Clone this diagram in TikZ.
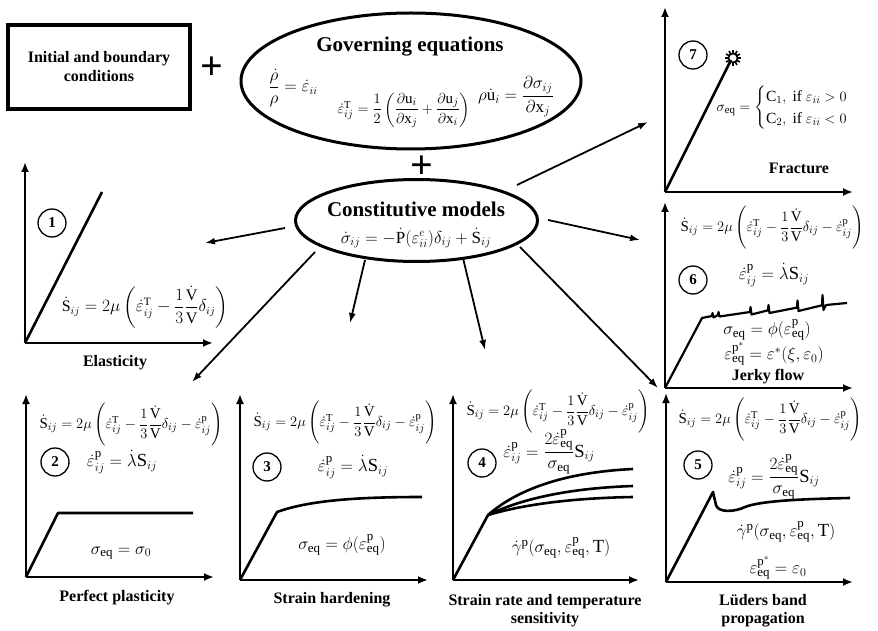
\documentclass[tikz,border=0pt]{standalone}
\usepackage{amsmath}
\usepackage{fontspec}
\setmainfont{Liberation Serif}
\usetikzlibrary{arrows.meta,shapes.geometric}
\newcommand\dS{\dot{\mathrm S}}
\newcommand\de{\dot\varepsilon}
\newcommand\rS{\mathrm S}
\newcommand\eqs{\mathrm{eq}}
\newcommand\pp{\mathrm p}
\newcommand\fullS{\dS_{ij}=2\mu\left(\de^{\mathrm T}_{ij}-\dfrac13\dfrac{\dot{\mathrm V}}{\mathrm V}\delta_{ij}-\de^{\pp}_{ij}\right)}
\begin{document}
\begin{tikzpicture}[x=1pt,y=-1pt,
  axis/.style={line width=2.2pt,-{Latex[length=10pt,width=8pt]}},
  curve/.style={line width=2.6pt,line join=round},
  arr/.style={line width=1.8pt,-{Latex[length=10pt,width=7pt]}},
  eqn/.style={inner sep=0pt,font=\fontsize{15}{17}\selectfont},
  eqb/.style={inner sep=0pt,font=\fontsize{18.5}{21}\selectfont},
  lbl/.style={inner sep=0pt,font=\fontsize{16}{18}\selectfont\bfseries,align=center},
  num/.style={draw,circle,line width=1.3pt,minimum size=28pt,inner sep=0pt,font=\fontsize{15}{15}\selectfont\bfseries},
  plus/.style={inner sep=0pt,font=\fontsize{40}{40}\selectfont\bfseries}]
\useasboundingbox (0,0) rectangle (878,631);
\fill[white] (0,0) rectangle (878,631);
% top: initial box, governing equations
\node[draw,line width=3.5pt,minimum width=182pt,minimum height=84pt,inner sep=0pt,
  font=\fontsize{16}{19}\selectfont\bfseries,align=center] (ibc) at (99,67) {Initial and boundary\\conditions};
\node[plus] (p1) at (212,68) {+};
\node[draw,ellipse,line width=3pt,minimum width=340pt,minimum height=136pt,inner sep=0pt] (gov) at (411,81) {};
\node[inner sep=0pt,font=\fontsize{21}{21}\selectfont\bfseries] (govt) at (410,47) {Governing equations};
\node[eqn,font=\fontsize{16}{18}\selectfont] (g1) at (293,88) {$\dfrac{\dot\rho}{\rho}=\de_{ii}$};
\node[eqn] (g2) at (404,110) {$\de^{\mathrm T}_{ij}=\dfrac12\left(\dfrac{\partial\mathrm u_i}{\partial\mathrm x_j}+\dfrac{\partial\mathrm u_j}{\partial\mathrm x_i}\right)$};
\node[eqn,font=\fontsize{17}{19}\selectfont] (g3) at (516,97) {$\rho\dot{\mathrm u}_i=\dfrac{\partial\sigma_{ij}}{\partial\mathrm x_j}$};
\node[plus] (p2) at (422,167) {+};
% constitutive models
\node[draw,ellipse,line width=3pt,minimum width=242pt,minimum height=82pt,inner sep=0pt] (cm) at (416.5,220.5) {};
\node[inner sep=0pt,font=\fontsize{21}{21}\selectfont\bfseries] (cmt) at (416,209) {Constitutive models};
\node[eqn,font=\fontsize{17}{20}\selectfont] (cme) at (416,238) {$\dot\sigma_{ij}=-\dot{\mathrm P}(\varepsilon^{e}_{ii})\delta_{ij}+\dS_{ij}$};
% arrow ends
\coordinate (s1) at (285,228); \coordinate (t1) at (205,243);
\coordinate (s2) at (315,252); \coordinate (t2) at (192,382);
\coordinate (s3) at (365,260); \coordinate (t3) at (350,323);
\coordinate (s4) at (463,258); \coordinate (t4) at (485,350);
\coordinate (s5) at (520,247); \coordinate (t5) at (658,388);
\coordinate (s6) at (548,220); \coordinate (t6) at (640,240);
\coordinate (s7) at (517,185); \coordinate (t7) at (648,122);
\foreach \i in {1,...,7} {\draw[arr] (s\i) -- (t\i);}
% ---------- panel 7: fracture
\coordinate (o7) at (665,192); \coordinate (y7) at (665,7); \coordinate (x7) at (853,192);
\draw[axis] (o7) -- (y7); \draw[axis] (o7) -- (x7);
\coordinate (f7) at (731,60);
\draw[curve] (o7) -- (f7);
\draw[line width=1.6pt] (733,58) circle (4.5);
\foreach \a in {0,30,...,330} {\draw[line width=1.6pt] (733,58) ++(\a:4.5) -- ++(\a:3.5);}
\node[num] (n7) at (693,55) {7};
\node[eqn,font=\fontsize{15.5}{18}\selectfont] (e7) at (790,108) {$\sigma_{\eqs}=\begin{cases}\mathrm C_1,\text{ if }\varepsilon_{ii}>0\\ \mathrm C_2,\text{ if }\varepsilon_{ii}<0\end{cases}$};
\node[lbl] (l7) at (799,168) {Fracture};
% ---------- panel 1: elasticity
\coordinate (o1) at (25,343); \coordinate (y1) at (25,162); \coordinate (x1) at (213,343);
\draw[axis] (o1) -- (y1); \draw[axis] (o1) -- (x1);
\coordinate (f1) at (102,192);
\draw[curve] (o1) -- (f1);
\node[num] (n1) at (52,223) {1};
\node[eqn,font=\fontsize{16}{18}\selectfont] (e1) at (145,307) {$\dS_{ij}=2\mu\left(\de^{\mathrm T}_{ij}-\dfrac13\dfrac{\dot{\mathrm V}}{\mathrm V}\delta_{ij}\right)$};
\node[lbl] (l1) at (115,363) {Elasticity};
% ---------- panel 6: jerky flow
\coordinate (o6) at (665,388); \coordinate (y6) at (665,202); \coordinate (x6) at (853,388);
\draw[axis] (o6) -- (y6); \draw[axis] (o6) -- (x6);
\draw[curve,line width=2.2pt] (o6) -- (702,318) -- (712,316) -- (712.5,313) -- (713.5,317.5) -- (718,315) -- (718.5,312) -- (719.5,316.5)
  -- (750,312) -- (750.5,307) -- (751.5,314.5) -- (768,310.3) -- (768.5,305) -- (769.5,313)
  -- (797,307.6) -- (797.5,300.5) -- (798.5,311) -- (822,305.3) -- (822.5,295) -- (823.5,310) -- (826,305) -- (847,303);
\node[eqn] (e6a) at (772,228) {$\fullS$};
\node[num] (n6) at (693,280) {6};
\node[eqb] (e6b) at (774,275) {$\de^{\pp}_{ij}=\dot\lambda\rS_{ij}$};
\node[eqb] (e6c) at (767,330) {$\sigma_{\eqs}=\phi(\varepsilon^{\pp}_{\eqs})$};
\node[eqb] (e6d) at (774,354) {$\varepsilon^{\pp^*}_{\eqs}=\varepsilon^*(\xi,\varepsilon_0)$};
\node[lbl] (l6) at (768,377) {Jerky flow};
% ---------- panel 2: perfect plasticity
\coordinate (o2) at (26,577); \coordinate (y2) at (26,394); \coordinate (x2) at (214,577);
\draw[axis] (o2) -- (y2); \draw[axis] (o2) -- (x2);
\draw[curve] (o2) -- (58,513) -- (193,513);
\node[eqn] (e2a) at (131,425) {$\fullS$};
\node[num] (n2) at (55,462) {2};
\node[eqb] (e2b) at (122,462) {$\de^{\pp}_{ij}=\dot\lambda\rS_{ij}$};
\node[eqb] (e2c) at (121,553) {$\sigma_{\eqs}=\sigma_0$};
\node[lbl] (l2) at (117,598) {Perfect plasticity};
% ---------- panel 3: strain hardening
\coordinate (o3) at (240,580); \coordinate (y3) at (240,394); \coordinate (x3) at (428,580);
\draw[axis] (o3) -- (y3); \draw[axis] (o3) -- (x3);
\draw[curve] (o3) -- (277,512) .. controls (310,500) and (360,497) .. (422,497);
\node[eqn] (e3a) at (345,423) {$\fullS$};
\node[num] (n3) at (267,467) {3};
\node[eqb] (e3b) at (353,467) {$\de^{\pp}_{ij}=\dot\lambda\rS_{ij}$};
\node[eqb] (e3c) at (342,545) {$\sigma_{\eqs}=\phi(\varepsilon^{\pp}_{\eqs})$};
\node[lbl] (l3) at (332,600) {Strain hardening};
% ---------- panel 4: strain rate and temperature
\coordinate (o4) at (453,580); \coordinate (y4) at (453,394); \coordinate (x4) at (639,580);
\draw[axis] (o4) -- (y4); \draw[axis] (o4) -- (x4);
\coordinate (k4) at (488,515);
\draw[curve] (o4) -- (k4);
\draw[curve] (k4) .. controls (520,487) and (570,472) .. (633,469);
\draw[curve] (k4) .. controls (525,497) and (575,488) .. (633,486);
\draw[curve] (k4) .. controls (525,504) and (575,498) .. (633,497);
\node[eqn] (e4a) at (558,412) {$\fullS$};
\node[num] (n4) at (482,463) {4};
\node[eqb] (e4b) at (549,452) {$\de^{\pp}_{ij}=\dfrac{2\de^{\pp}_{\eqs}}{\sigma_{\eqs}}\rS_{ij}$};
\node[eqb] (e4c) at (561,548) {$\dot\gamma^{\pp}(\sigma_{\eqs},\varepsilon^{\pp}_{\eqs},\mathrm T)$};
\node[lbl] (l4) at (545,611) {Strain rate and temperature\\sensitivity};
% ---------- panel 5: Lueders band
\coordinate (o5) at (666,582); \coordinate (y5) at (666,393); \coordinate (x5) at (853,582);
\draw[axis] (o5) -- (y5); \draw[axis] (o5) -- (x5);
\draw[curve] (o5) -- (713,492) -- (716,505) .. controls (718,513) and (735,512) .. (745,507) .. controls (760,501) and (800,499) .. (850,498);
\node[eqn] (e5a) at (770,420) {$\fullS$};
\node[num] (n5) at (698,465) {5};
\node[eqb] (e5b) at (774,477) {$\de^{\pp}_{ij}=\dfrac{2\de^{\pp}_{\eqs}}{\sigma_{\eqs}}\rS_{ij}$};
\node[eqb] (e5c) at (786,532) {$\dot\gamma^{\pp}(\sigma_{\eqs},\varepsilon^{\pp}_{\eqs},\mathrm T)$};
\node[eqb] (e5d) at (778,568) {$\varepsilon^{\pp^*}_{\eqs}=\varepsilon_0$};
\node[lbl] (l5) at (763,611) {Lüders band\\propagation};
\end{tikzpicture}
\end{document}
